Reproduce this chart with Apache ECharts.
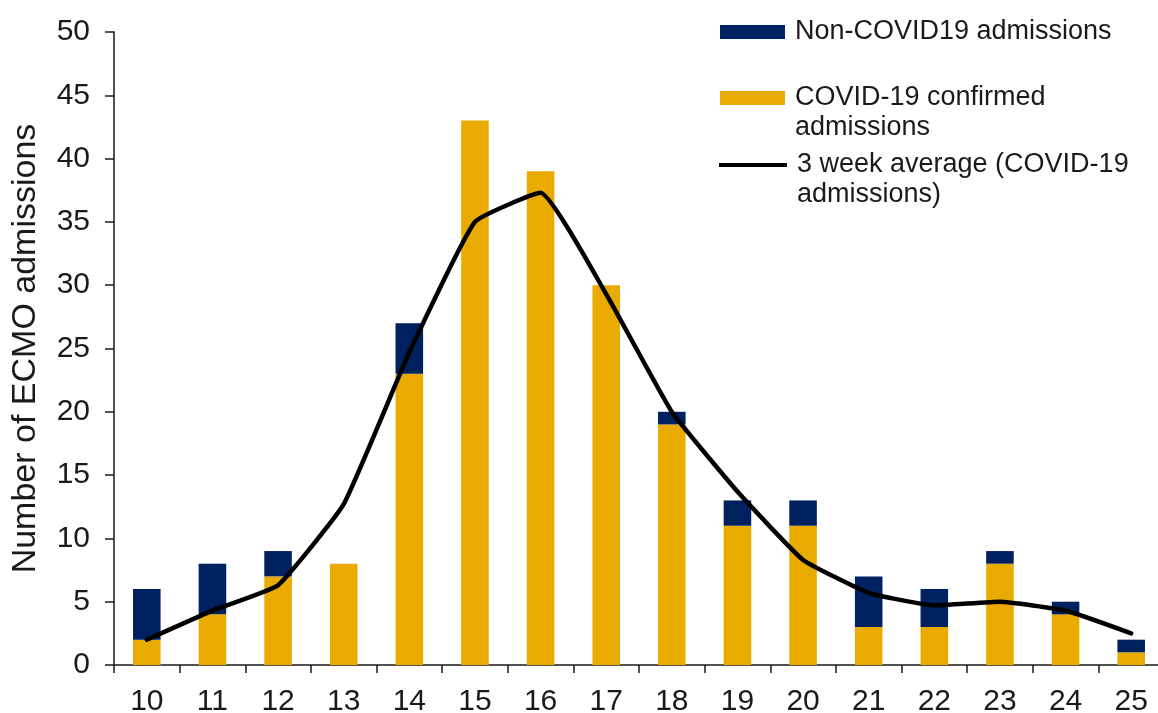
<!DOCTYPE html>
<html>
<head>
<meta charset="utf-8">
<title>ECMO admissions by week</title>
<script src="https://cdn.jsdelivr.net/npm/echarts@6/dist/echarts.min.js"></script>
<style>
  html, body { margin: 0; padding: 0; background: #fff; }
  #chart { width: 1158px; height: 713px; }
</style>
</head>
<body>
<div id="chart"></div>
<script>
// Week numbers on the x axis
const weeks = ['10', '11', '12', '13', '14', '15', '16', '17', '18', '19', '20', '21', '22', '23', '24', '25'];

// COVID-19 confirmed ECMO admissions per week
const covidAdmissions = [2, 4, 7, 8, 23, 43, 39, 30, 19, 11, 11, 3, 3, 8, 4, 1];

// Non-COVID19 ECMO admissions per week (stacked on top)
const nonCovidAdmissions = [4, 4, 2, 0, 4, 0, 0, 0, 1, 2, 2, 4, 3, 1, 1, 1];

// Centred 3 week average of COVID-19 admissions
const threeWeekAverage = [2, 4.3, 6.3, 12.7, 24.7, 35, 37.3, 29.3, 20, 13.7, 8.3, 5.7, 4.7, 5, 4.3, 2.5];

// Value axis ticks
const yMin = 0;
const yMax = 50;
const yStep = 5;

const NAME_NON = 'Non-COVID19 admissions';
const NAME_COVID = 'COVID-19 confirmed admissions';
const NAME_AVG = '3 week average (COVID-19 admissions)';

const NAVY = '#00215f';
const GOLD = '#e9ab00';
const INK = '#1a1a1a';
const FONT = '"Liberation Sans", Arial, sans-serif';

// Shared legend text style; the "g" token is a small spacer after the icon
const legendText = {
  color: INK,
  fontFamily: FONT,
  fontSize: 27,
  lineHeight: 30,
  rich: {
    g: { width: 5, fontSize: 27, lineHeight: 30 },
    t: { color: INK, fontFamily: FONT, fontSize: 27, lineHeight: 30 }
  }
};

// Two-line labels get an empty first line so the first text line sits level with the icon
const oneLine = (a) => '{g| }{t|' + a + '}';
const twoLines = (a, b) => '{g| }\n{g| }{t|' + a + '}\n{g| }{t|' + b + '}';

const chart = echarts.init(document.getElementById('chart'), null, { renderer: 'canvas' });

chart.setOption({
  animation: false,
  backgroundColor: '#fff',
  textStyle: { fontFamily: FONT },
  grid: {
    left: 114,
    right: -6,
    top: 32,
    bottom: 48,
    containLabel: false,
    outerBoundsMode: 'none'
  },
  legend: [
    {
      data: [{ name: NAME_NON, icon: 'rect' }],
      left: 720,
      top: 17,
      padding: 0,
      itemWidth: 65,
      itemHeight: 14,
      selectedMode: false,
      formatter: () => oneLine('Non-COVID19 admissions'),
      textStyle: legendText
    },
    {
      data: [{ name: NAME_COVID, icon: 'rect' }],
      left: 720,
      top: 53,
      padding: 0,
      itemWidth: 65,
      itemHeight: 14,
      selectedMode: false,
      formatter: () => twoLines('COVID-19 confirmed', 'admissions'),
      textStyle: legendText
    },
    {
      data: [{ name: NAME_AVG, icon: 'rect' }],
      left: 719,
      top: 120,
      padding: 0,
      itemWidth: 68,
      itemHeight: 4,
      selectedMode: false,
      formatter: () => twoLines('3 week average (COVID-19', 'admissions)'),
      textStyle: legendText
    }
  ],
  xAxis: {
    type: 'category',
    data: weeks,
    boundaryGap: true,
    axisLine: { lineStyle: { color: INK, width: 1.5 } },
    axisTick: { show: true, inside: false, length: 8, alignWithLabel: false, lineStyle: { color: INK, width: 1.5 } },
    axisLabel: { color: INK, fontSize: 30, fontFamily: FONT, margin: 22 },
    splitLine: { show: false }
  },
  yAxis: {
    type: 'value',
    min: yMin,
    max: yMax,
    interval: yStep,
    name: 'Number of ECMO admissions',
    nameLocation: 'middle',
    nameGap: 71,
    nameTextStyle: { color: INK, fontSize: 34, fontFamily: FONT },
    axisLine: { show: true, lineStyle: { color: INK, width: 1.5 } },
    axisTick: { show: true, inside: false, length: 9, lineStyle: { color: INK, width: 1.5 } },
    axisLabel: { color: INK, fontSize: 30, fontFamily: FONT, margin: 24 },
    splitLine: { show: false }
  },
  series: [
    {
      name: NAME_COVID,
      type: 'bar',
      stack: 'admissions',
      data: covidAdmissions,
      barWidth: '42%',
      itemStyle: { color: GOLD }
    },
    {
      name: NAME_NON,
      type: 'bar',
      stack: 'admissions',
      data: nonCovidAdmissions,
      barWidth: '42%',
      itemStyle: { color: NAVY }
    },
    {
      name: NAME_AVG,
      type: 'line',
      data: threeWeekAverage,
      smooth: 0.12,
      symbol: 'none',
      showSymbol: false,
      lineStyle: { color: '#000', width: 4.5, cap: 'round', join: 'round' },
      itemStyle: { color: '#000' },
      z: 5
    }
  ]
});
</script>
</body>
</html>
